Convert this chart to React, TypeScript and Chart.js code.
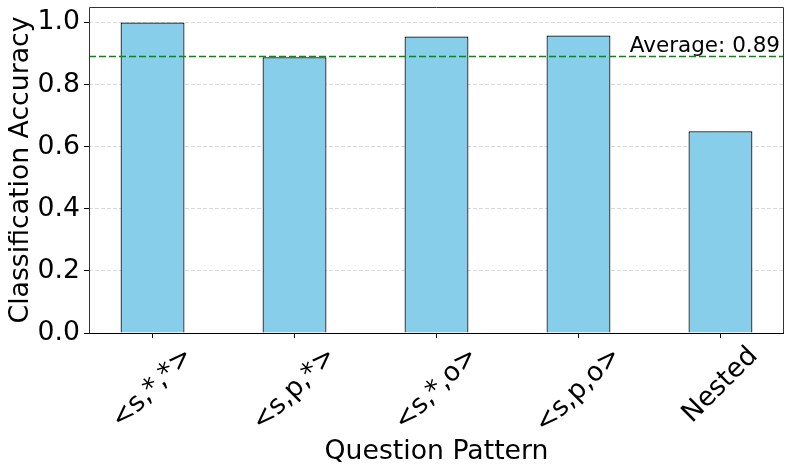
import React, { useEffect, useRef } from 'react';
import { Chart, registerables } from 'chart.js';

Chart.register(...registerables);

const categories = ['<s,*,*>', '<s,p,*>', '<s,*,o>', '<s,p,o>', 'Nested'];
const accuracy = [1.0, 0.888, 0.955, 0.958, 0.65];
const yTicks = [0, 0.2, 0.4, 0.6, 0.8, 1.0];
const yMin = 0;
const yMax = 1.05;
const xMin = -0.4475;
const xMax = 4.4475;
const average = accuracy.reduce((a, b) => a + b, 0) / accuracy.length;

const FONT = '"DejaVu Sans", "Noto Sans", sans-serif';
const BIG = 26.7;
const SMALL = 21.5;

const overlay = {
  id: 'overlay',
  afterDraw(chart: any) {
    const { ctx, chartArea: ca, scales } = chart;
    const xs = scales.x;
    const ys = scales.y;
    ctx.save();
    // frame
    ctx.lineWidth = 1;
    ctx.strokeStyle = '#333';
    ctx.beginPath();
    ctx.moveTo(ca.left + 0.5, ca.bottom);
    ctx.lineTo(ca.left + 0.5, ca.top + 0.5);
    ctx.lineTo(ca.right - 0.5, ca.top + 0.5);
    ctx.lineTo(ca.right - 0.5, ca.bottom);
    ctx.stroke();
    ctx.strokeStyle = '#000';
    ctx.beginPath();
    ctx.moveTo(ca.left, ca.bottom + 0.5);
    ctx.lineTo(ca.right, ca.bottom + 0.5);
    ctx.stroke();

    // rotated x tick labels, centred under each tick
    ctx.font = `${BIG}px ${FONT}`;
    ctx.fillStyle = '#000';
    ctx.textAlign = 'center';
    ctx.textBaseline = 'middle';
    const top = ca.bottom + 5 + 3;
    const h = BIG * 1.164;
    categories.forEach((c, i) => {
      const w = ctx.measureText(c).width;
      const x = xs.getPixelForValue(i);
      const y = top + (w + h) / (2 * Math.SQRT2);
      ctx.save();
      ctx.translate(x, y);
      ctx.rotate(-Math.PI / 4);
      ctx.fillText(c, 0, 0);
      ctx.restore();
    });

    // average annotation
    ctx.font = `${SMALL}px ${FONT}`;
    ctx.textAlign = 'right';
    ctx.textBaseline = 'alphabetic';
    ctx.fillText(`Average: ${average.toFixed(2)}`, ca.right - 4, ys.getPixelForValue(average) - 5);
    ctx.restore();
  },
};

export default function App() {
  const ref = useRef<HTMLCanvasElement | null>(null);

  useEffect(() => {
    if (!ref.current) return;
    const chart = new Chart(ref.current, {
      type: 'bar',
      data: {
        datasets: [
          {
            type: 'bar',
            label: 'Accuracy',
            data: categories.map((_, i) => ({ x: i, y: accuracy[i] })),
            backgroundColor: '#87CEEB',
            borderColor: '#000',
            borderWidth: 1.2,
            borderSkipped: 'start',
            barPercentage: 0.45,
            categoryPercentage: 1,
            order: 1,
          } as any,
          {
            type: 'line',
            label: 'Average',
            data: [
              { x: xMin, y: average },
              { x: xMax, y: average },
            ],
            borderColor: '#0a8a0a',
            borderWidth: 1.5,
            borderDash: [7, 3],
            pointRadius: 0,
            fill: false,
            order: 0,
          } as any,
        ],
      },
      options: {
        animation: false,
        responsive: false,
        devicePixelRatio: 1,
        layout: { padding: { top: 7, right: 9, left: 0, bottom: 0 } },
        plugins: {
          legend: { display: false },
          tooltip: { enabled: false },
        },
        scales: {
          x: {
            type: 'linear',
            min: xMin,
            max: xMax,
            offset: false,
            grid: {
              offset: false,
              drawOnChartArea: false,
              drawTicks: true,
              tickLength: 5,
              tickColor: '#000',
              tickWidth: 1,
            },
            border: { display: false },
            ticks: { display: false },
            afterBuildTicks: (scale: any) => {
              scale.ticks = categories.map((_, i) => ({ value: i }));
            },
            afterFit: (scale: any) => {
              scale.height = 475 - 333;
              scale.paddingLeft = 0;
              scale.paddingRight = 0;
            },
            title: {
              display: true,
              text: 'Question Pattern',
              color: '#000',
              font: { family: FONT, size: BIG },
              padding: { top: 0, bottom: 7 },
            },
          },
          y: {
            type: 'linear',
            min: yMin,
            max: yMax,
            grid: {
              color: '#d0d0d0',
              lineWidth: 0.8,
              drawTicks: true,
              tickLength: 5,
              tickColor: '#000',
              tickWidth: 1,
            },
            border: { display: false, dash: [4, 2] },
            ticks: {
              color: '#000',
              padding: 4,
              font: { family: FONT, size: BIG },
              callback: (v: any) => Number(v).toFixed(1),
            },
            afterBuildTicks: (scale: any) => {
              scale.ticks = yTicks.map((v) => ({ value: v }));
            },
            afterFit: (scale: any) => {
              scale.width = 89;
              scale.paddingTop = 0;
              scale.paddingBottom = 0;
            },
            title: {
              display: true,
              text: 'Classification Accuracy',
              color: '#000',
              font: { family: FONT, size: BIG },
              padding: { top: 5, bottom: 0 },
            },
          },
        },
      },
      plugins: [overlay],
    } as any);
    return () => chart.destroy();
  }, []);

  return (
    <div style={{ position: 'fixed', left: 0, top: 0, width: 793, height: 475, background: '#fff' }}>
      <canvas ref={ref} width={793} height={475} style={{ display: 'block' }} />
    </div>
  );
}
